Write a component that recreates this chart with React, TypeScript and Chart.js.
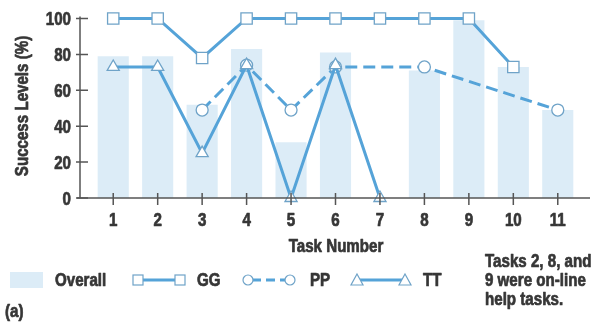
import React, { useEffect, useRef } from "react";
import { Chart, registerables } from "chart.js";

Chart.register(...registerables);

const categories = ["1", "2", "3", "4", "5", "6", "7", "8", "9", "10", "11"];
const overall = [79, 79, 52, 83, 31, 81, null, 71, 99, 73, 49];
const gg = [100, 100, 78, 100, 100, 100, 100, 100, 100, 73, null];
const pp = [null, null, 49, 74, 49, 73, null, 73, null, null, 49];
const tt = [73, 73, 25, 74, 0, 74, 0, null, null, null, null];
const yTicks = [0, 20, 40, 60, 80, 100];
const noteLines = ["Tasks 2, 8, and", "9 were on-line", "help tasks."];

const FONT = "'Liberation Sans', Arial, sans-serif";
const SQUEEZE = 0.84;
const LINE = "#55a3d8";
const BAR = "#dcecf7";
const MARK = "#6fa3c8";
const TEXT = "#363636";
const AXIS = "#555555";

function txt(ctx: CanvasRenderingContext2D, s: string, x: number, y: number, align: CanvasTextAlign, rotate = false) {
  ctx.save();
  ctx.translate(x, y);
  if (rotate) ctx.rotate(-Math.PI / 2);
  ctx.scale(SQUEEZE, 1);
  ctx.textAlign = align;
  ctx.textBaseline = "alphabetic";
  ctx.lineWidth = 0.7;
  ctx.strokeStyle = TEXT;
  ctx.lineJoin = "round";
  ctx.strokeText(s, 0, 0);
  ctx.fillText(s, 0, 0);
  ctx.restore();
}

const decor = {
  id: "decor",
  afterDraw(chart: any) {
    const ctx = chart.ctx as CanvasRenderingContext2D;
    const x = chart.scales.x;
    const y = chart.scales.y;
    const y0 = y.getPixelForValue(0);
    ctx.save();
    ctx.strokeStyle = AXIS;
    ctx.lineWidth = 1.5;
    ctx.beginPath();
    ctx.moveTo(80, y.getPixelForValue(100) - 2);
    ctx.lineTo(80, y0);
    ctx.moveTo(77, y0);
    ctx.lineTo(590, y0);
    ctx.stroke();
    ctx.beginPath();
    yTicks.forEach((v) => {
      const py = y.getPixelForValue(v);
      ctx.moveTo(76, py);
      ctx.lineTo(88, py);
    });
    categories.forEach((_, i) => {
      const px = x.getPixelForValue(i);
      ctx.moveTo(px, y0 - 5);
      ctx.lineTo(px, y0 + 7);
    });
    ctx.stroke();

    ctx.fillStyle = TEXT;
    ctx.font = `bold 18px ${FONT}`;
    yTicks.forEach((v) => txt(ctx, String(v), 71, y.getPixelForValue(v) + 6.5, "right"));
    categories.forEach((c, i) => txt(ctx, c, x.getPixelForValue(i), 226, "center"));

    txt(ctx, "Success Levels (%)", 28, 106, "center", true);
    txt(ctx, "Task Number", 336, 252, "center");

    const ly = 280;
    ctx.fillStyle = BAR;
    ctx.fillRect(10, 272, 33, 16);
    ctx.fillStyle = TEXT;
    txt(ctx, "Overall", 55, 286, "left");
    txt(ctx, "GG", 197, 286, "left");
    txt(ctx, "PP", 310, 286, "left");
    txt(ctx, "TT", 423, 286, "left");

    ctx.strokeStyle = LINE;
    ctx.lineWidth = 3;
    ctx.beginPath();
    ctx.moveTo(140, ly);
    ctx.lineTo(178, ly);
    ctx.moveTo(360, ly);
    ctx.lineTo(402, ly);
    ctx.stroke();
    ctx.setLineDash([9, 5]);
    ctx.beginPath();
    ctx.moveTo(252, ly);
    ctx.lineTo(286, ly);
    ctx.stroke();
    ctx.setLineDash([]);

    ctx.lineWidth = 1.2;
    ctx.strokeStyle = MARK;
    ctx.fillStyle = "#ffffff";
    [138, 180].forEach((cx) => {
      ctx.fillRect(cx - 5, ly - 5, 10, 10);
      ctx.strokeRect(cx - 5, ly - 5, 10, 10);
    });
    [248, 290].forEach((cx) => {
      ctx.beginPath();
      ctx.arc(cx, ly, 5, 0, Math.PI * 2);
      ctx.fill();
      ctx.stroke();
    });
    [357, 405].forEach((cx) => {
      ctx.beginPath();
      ctx.moveTo(cx, ly - 6);
      ctx.lineTo(cx + 6, ly + 5);
      ctx.lineTo(cx - 6, ly + 5);
      ctx.closePath();
      ctx.fill();
      ctx.stroke();
    });

    ctx.fillStyle = TEXT;
    noteLines.forEach((t, i) => txt(ctx, t, 485, 267 + i * 19, "left"));
    txt(ctx, "(a)", 5, 317, "left");
    ctx.restore();
  },
};

export default function App() {
  const ref = useRef<HTMLCanvasElement>(null);
  useEffect(() => {
    if (!ref.current) return;
    const chart = new Chart(ref.current, {
      type: "bar",
      data: {
        labels: categories,
        datasets: [
          {
            type: "line",
            label: "TT",
            data: tt,
            borderColor: LINE,
            borderWidth: 3,
            pointStyle: "triangle",
            pointRadius: 7,
            pointBackgroundColor: "#ffffff",
            pointBorderColor: MARK,
            pointBorderWidth: 1.3,
            tension: 0,
            clip: false,
            order: 0,
          } as any,
          {
            type: "line",
            label: "PP",
            data: pp,
            borderColor: LINE,
            borderWidth: 3,
            borderDash: [12, 6],
            spanGaps: true,
            pointStyle: "circle",
            pointRadius: 6,
            pointBackgroundColor: "#ffffff",
            pointBorderColor: MARK,
            pointBorderWidth: 1.3,
            tension: 0,
            clip: false,
            order: 1,
          } as any,
          {
            type: "line",
            label: "GG",
            data: gg,
            borderColor: LINE,
            borderWidth: 3,
            pointStyle: "rect",
            pointRadius: 8,
            pointBackgroundColor: "#ffffff",
            pointBorderColor: MARK,
            pointBorderWidth: 1.3,
            tension: 0,
            clip: false,
            order: 2,
          } as any,
          {
            type: "bar",
            label: "Overall",
            data: overall,
            backgroundColor: BAR,
            borderWidth: 0,
            categoryPercentage: 0.7,
            barPercentage: 1,
            order: 10,
          } as any,
        ],
      },
      options: {
        animation: false,
        responsive: false,
        layout: { padding: { top: 18.5, right: 20, bottom: 0, left: 0 } },
        plugins: { legend: { display: false }, tooltip: { enabled: false } },
        scales: {
          x: {
            grid: { display: false, drawTicks: false },
            border: { display: false },
            ticks: { display: false },
            afterFit: (s: any) => {
              s.height = 124;
            },
          },
          y: {
            min: 0,
            max: 100,
            grid: { display: false, drawTicks: false },
            border: { display: false },
            ticks: { display: false, stepSize: 20 },
            afterFit: (s: any) => {
              s.width = 91;
            },
          },
        },
      },
      plugins: [decor],
    });
    return () => chart.destroy();
  }, []);
  return (
    <div style={{ position: "absolute", left: 0, top: 0, width: 600, height: 322, background: "#fff" }}>
      <canvas ref={ref} width={600} height={322} style={{ width: 600, height: 322, display: "block" }} />
    </div>
  );
}
